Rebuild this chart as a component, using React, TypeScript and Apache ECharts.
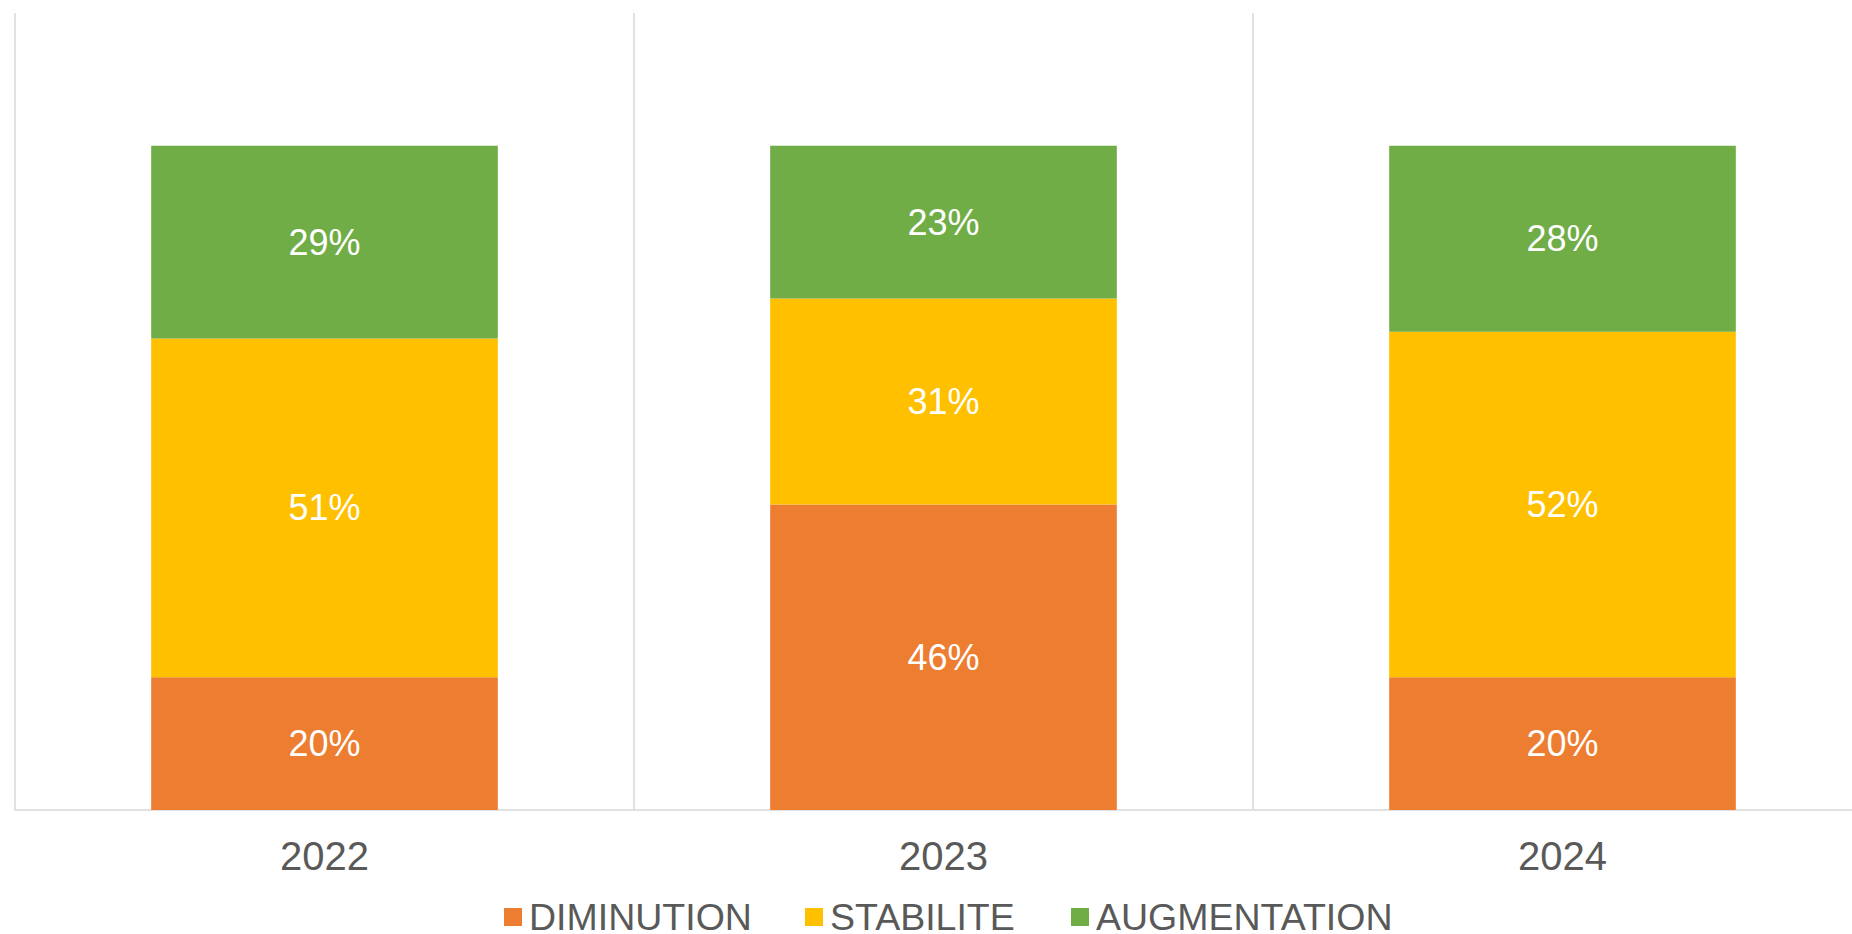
import React, { useEffect, useRef } from "react";
import * as echarts from "echarts";

const categories = ["2022", "2023", "2024"];
const seriesNames = ["DIMINUTION", "STABILITE", "AUGMENTATION"];
const diminution = [20, 46, 20];
const stabilite = [51, 31, 52];
const augmentation = [29, 23, 28];
const colors = ["#ED7D31", "#FFC000", "#70AD47"];

const FONT = "'Liberation Sans', Arial, sans-serif";

export default function App() {
  const ref = useRef<HTMLDivElement>(null);
  useEffect(() => {
    if (!ref.current) return;
    const chart = echarts.init(ref.current, undefined, { renderer: "svg" });
    const values = [diminution, stabilite, augmentation];
    const legendLefts = [502, 803, 1069];
    chart.setOption({
      animation: false,
      backgroundColor: "#FFFFFF",
      grid: { left: 15, right: 20, top: 13, bottom: 124, containLabel: false },
      legend: seriesNames.map((n, i) => ({
        data: [n],
        left: legendLefts[i],
        top: 896,
        itemWidth: 18,
        itemHeight: 18,
        itemGap: 0,
        icon: "rect",
        padding: 2,
        textStyle: {
          color: "#595959",
          fontSize: 37.5,
          fontFamily: FONT,
          padding: [0, 0, 0, 2],
        },
      })),
      xAxis: {
        type: "category",
        data: categories,
        axisLine: { show: true, lineStyle: { color: "#D9D9D9", width: 1.5 } },
        axisTick: { show: false },
        splitLine: { show: true, interval: 0, lineStyle: { color: "#D9D9D9", width: 1.5 } },
        axisLabel: {
          color: "#595959",
          fontSize: 40,
          fontFamily: FONT,
          margin: 26,
          lineHeight: 40,
        },
      },
      yAxis: {
        type: "value",
        min: 0,
        max: 120,
        show: false,
        splitLine: { show: false },
      },
      series: seriesNames.map((n, i) => ({
        name: n,
        type: "bar",
        stack: "total",
        data: values[i],
        barCategoryGap: "44%",
        itemStyle: { color: colors[i] },
        label: {
          show: true,
          position: "inside",
          formatter: "{c}%",
          color: "#FFFFFF",
          fontSize: 36,
          fontFamily: FONT,
        },
      })),
    });
    return () => chart.dispose();
  }, []);
  return (
    <div
      style={{
        position: "fixed",
        left: 0,
        top: 0,
        width: 1852,
        height: 934,
        overflow: "hidden",
        background: "#FFFFFF",
      }}
    >
      <div ref={ref} style={{ width: 1892, height: 934 }} />
    </div>
  );
}
